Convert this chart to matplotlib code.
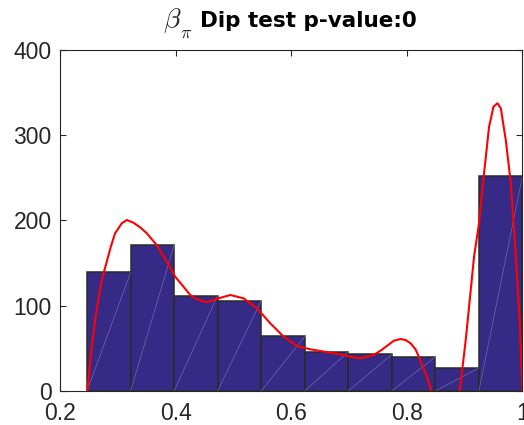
import numpy as np
import matplotlib.pyplot as plt

plt.rcParams['mathtext.fontset'] = 'cm'

# histogram of beta_pi (counts per bin)
bin_left = 0.2468
bin_right = 1.0
counts = [139, 171, 112, 106, 64, 46, 43, 40, 27, 252]

# red density-style curve
curve_x = [0.2473, 0.2549, 0.2624, 0.2722, 0.2878, 0.2953, 0.3069, 0.3156, 0.327,
           0.3386, 0.3502, 0.3675, 0.3849, 0.3993, 0.4137, 0.4253, 0.4369, 0.4542,
           0.4743, 0.4946, 0.5176, 0.5407, 0.5638, 0.5869, 0.61, 0.6331, 0.6678,
           0.6851, 0.7021, 0.7194, 0.7425, 0.7546, 0.7777, 0.789, 0.7977, 0.8064,
           0.815, 0.8208, 0.8266, 0.8324, 0.8428, 0.852, 0.865, 0.878, 0.8915,
           0.9019, 0.9106, 0.9163, 0.9249, 0.9336, 0.9423, 0.9499, 0.9568, 0.9626,
           0.9712, 0.9799, 0.9886, 0.9955, 1.0]
curve_y = [0, 52, 91, 130, 169, 185, 196.7, 200.6, 197.4,
           192, 185, 171, 151.7, 134, 122.3, 112.6, 107.6, 104,
           108.7, 112.6, 108.7, 97, 79.4, 63.7, 52.8, 48.9, 44.9,
           43, 40.2, 38.4, 42.2, 47.3, 59, 61, 59.8, 56,
           48.9, 40.2, 30.5, 20.8, 0, -35, -60, -40, 0,
           59.8, 118.5, 157.5, 196.7, 255.4, 310, 333.5, 337.5, 331.6,
           294.4, 243.6, 157.5, 79.4, 0]

edges = np.linspace(bin_left, bin_right, len(counts) + 1)
width = edges[1] - edges[0]

fig = plt.figure(figsize=(5.24, 4.25), dpi=100)
ax = fig.add_axes([0.1145, 0.08, 0.8825, 0.8024])

ax.bar(edges[:-1], counts, width=width, align='edge', color='#352a86',
       edgecolor='#2a2a2a', linewidth=1.1, zorder=2)
# faint diagonal seams inside each bar
for x0, h in zip(edges[:-1], counts):
    ax.plot([x0, x0 + width], [0, h], color='#8078b8', lw=0.5, alpha=0.8, zorder=3)

ax.plot(curve_x, curve_y, color='red', lw=1.5, zorder=4)

ax.set_xlim(0.2, 1.0)
ax.set_ylim(0, 400)
ax.set_xticks([0.2, 0.4, 0.6, 0.8, 1.0])
ax.set_xticklabels(['0.2', '0.4', '0.6', '0.8', '1'])
ax.set_yticks([0, 100, 200, 300, 400])
ax.tick_params(direction='in', length=4, width=0.8, color='#262626',
               top=True, right=True, labelsize=16.5, labelcolor='#262626')
ax.tick_params(axis='x', pad=8)
ax.tick_params(axis='y', pad=6)
for lab in ax.get_xticklabels() + ax.get_yticklabels():
    lab.set_fontfamily('Liberation Sans')
for s in ax.spines.values():
    s.set_color('#262626')
    s.set_linewidth(0.8)
    s.set_zorder(1)

# title: symbol part and bold text part
ax.text(0.2227, 1.0674, r'$\beta$', transform=ax.transAxes, fontsize=20,
        ha='left', va='baseline', color='#262626')
ax.text(0.2605, 1.0352, r'$\pi$', transform=ax.transAxes, fontsize=13,
        ha='left', va='baseline', color='#262626')
ax.text(0.3027, 1.0674, 'Dip test p-value:0', transform=ax.transAxes, fontsize=15.5,
        fontweight='bold', family='DejaVu Sans', ha='left', va='baseline', color='black')

fig.savefig('out.png', dpi=100)
